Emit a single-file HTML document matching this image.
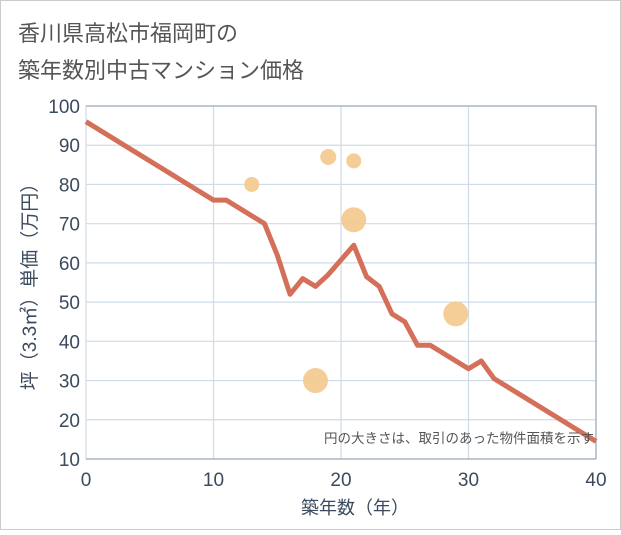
<!DOCTYPE html>
<html><head><meta charset="utf-8"><style>
body{margin:0;background:#fff;}
svg text{font-family:"Liberation Sans","Noto Sans CJK JP",sans-serif;}
</style></head><body>
<svg width="621" height="530" xmlns="http://www.w3.org/2000/svg">
<rect x="0.5" y="0.5" width="620" height="529" fill="#fff" stroke="#ccc"/>
<text x="18" y="41" font-size="22" fill="#555">香川県高松市福岡町の</text>
<text x="18" y="78" font-size="22" fill="#555">築年数別中古マンション価格</text>
<g id="grid"></g>
<g id="axes"></g>
<g id="bubbles"></g>
<g id="line"></g>
<text x="594" y="443" font-size="13.5" fill="#555" text-anchor="end">円の大きさは、取引のあった物件面積を示す</text>
<text x="355" y="514" font-size="18" fill="#3c4a5e" text-anchor="middle">築年数（年）</text>
<text transform="translate(36,282) rotate(-90)" font-size="19" fill="#3c4a5e" text-anchor="middle">坪（3.3㎡）単価（万円）</text>
</svg>
<script>
const xTicks=[0,10,20,30,40];
const yTicks=[10,20,30,40,50,60,70,80,90,100];
const lineYears=[0,10,11,14,15,16,17,18,19,21,22,23,24,25,26,27,30,31,32,40];
const linePrices=[96,76,76,70,62,52,56,54,57,64.5,56.5,54,47,45,39,39,33,35,30.5,14.5];
const bubbleYears=[13,19,21,21,29,18];
const bubblePrices=[80,87,86,71,47,30];
const bubbleSizes=[7.5,8,7.5,12.5,12.5,12.5];
const NS="http://www.w3.org/2000/svg";
const X0=86,X1=596,Y0=459,Y1=106;
const sx=v=>X0+(v-0)/(40-0)*(X1-X0);
const sy=v=>Y0-(v-10)/(100-10)*(Y0-Y1);
function mk(t,a,p){const e=document.createElementNS(NS,t);for(const k in a)e.setAttribute(k,a[k]);p.appendChild(e);return e;}
const grid=document.getElementById('grid'),axes=document.getElementById('axes');
yTicks.forEach(v=>{
 const l=mk('line',{x1:X0,x2:X1,y1:sy(v),y2:sy(v),stroke:'#cfdbe6','stroke-width':1.2},grid);
 
 
 const t=mk('text',{x:X0-6,y:sy(v)+7,'font-size':19,fill:'#3c4a5e','text-anchor':'end'},axes);
 t.textContent=v;
 
 
});
xTicks.forEach(v=>{
 const l=mk('line',{x1:sx(v),x2:sx(v),y1:Y1,y2:Y0,stroke:'#cfdbe6','stroke-width':1.2},grid);
 
 
 const t=mk('text',{x:sx(v),y:Y0+27,'font-size':19,fill:'#3c4a5e','text-anchor':'middle'},axes);
 t.textContent=v;
 
 
});
const fr=mk('path',{d:`M${X0} ${Y1}H${X1}V${Y0}`,fill:'none',stroke:'#8a9aab','stroke-width':1},axes);


const xa=mk('line',{x1:X0,x2:X1,y1:Y0,y2:Y0,stroke:'#8a9aab','stroke-width':1},axes);


const bg=document.getElementById('bubbles');
bubbleYears.forEach((v,i)=>{
 const c=mk('circle',{cx:sx(v),cy:sy(bubblePrices[i]),r:bubbleSizes[i],fill:'#f3c98b','fill-opacity':0.9},bg);
 
 
});
const lg=document.getElementById('line');
const p=mk('polyline',{points:lineYears.map((v,i)=>sx(v)+','+sy(linePrices[i])).join(' '),fill:'none',stroke:'#d4705a','stroke-width':5,'stroke-linejoin':'round'},lg);


</script>
</body></html>
